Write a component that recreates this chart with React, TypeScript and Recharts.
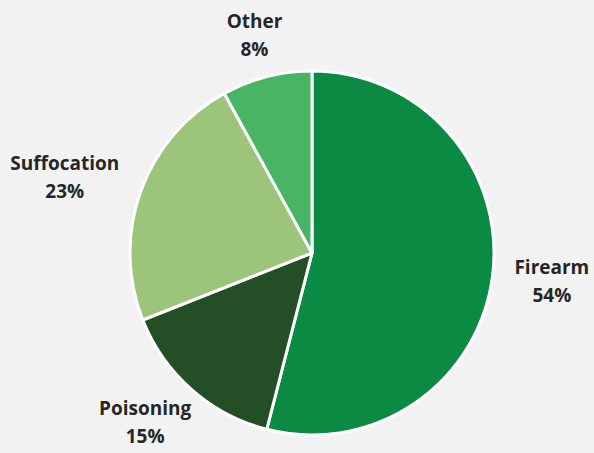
import React from 'react';
import { PieChart, Pie, Cell } from 'recharts';

// Causes and their shares (percent), clockwise from 12 o'clock
const causes = ['Firearm', 'Poisoning', 'Suffocation', 'Other'];
const shares = [54, 15, 23, 8];
const colors = ['#0b8a43', '#244e26', '#9dc47b', '#47b563'];

const RADIAN = Math.PI / 180;

// Label box sits just outside the rim, shifted away from the pie by half its size
const renderLabel = (props: any) => {
  const { cx, cy, midAngle, outerRadius, payload } = props;
  const cos = Math.cos(-midAngle * RADIAN);
  const sin = Math.sin(-midAngle * RADIAN);
  const halfW = (payload.name.length * 10.5) / 2;
  const halfH = 20;
  const r = outerRadius + 23;
  const x = cx + r * cos + halfW * cos;
  const y = cy + r * sin + halfH * sin;
  return (
    <text
      x={x}
      y={y}
      textAnchor="middle"
      fill="#262626"
      fontSize={19}
      fontWeight="bold"
      fontFamily="'Open Sans', sans-serif"
    >
      <tspan x={x} y={y - 7}>{payload.name}</tspan>
      <tspan x={x} y={y + 21}>{`${payload.value}%`}</tspan>
    </text>
  );
};

const App: React.FC = () => {
  const data = causes.map((name, i) => ({ name, value: shares[i] }));
  return (
    <div style={{ position: 'absolute', left: 0, top: 0, width: 594, height: 453, background: '#f2f2f2' }}>
      <PieChart width={594} height={453} margin={{ top: 0, right: 0, bottom: 0, left: 0 }}>
        <Pie
          data={data}
          dataKey="value"
          nameKey="name"
          cx={312}
          cy={253}
          outerRadius={182}
          startAngle={90}
          endAngle={-270}
          stroke="#ffffff"
          strokeWidth={3}
          label={renderLabel}
          labelLine={false}
          isAnimationActive={false}
        >
          {data.map((d, i) => (
            <Cell key={d.name} fill={colors[i]} />
          ))}
        </Pie>
      </PieChart>
    </div>
  );
};

export default App;
